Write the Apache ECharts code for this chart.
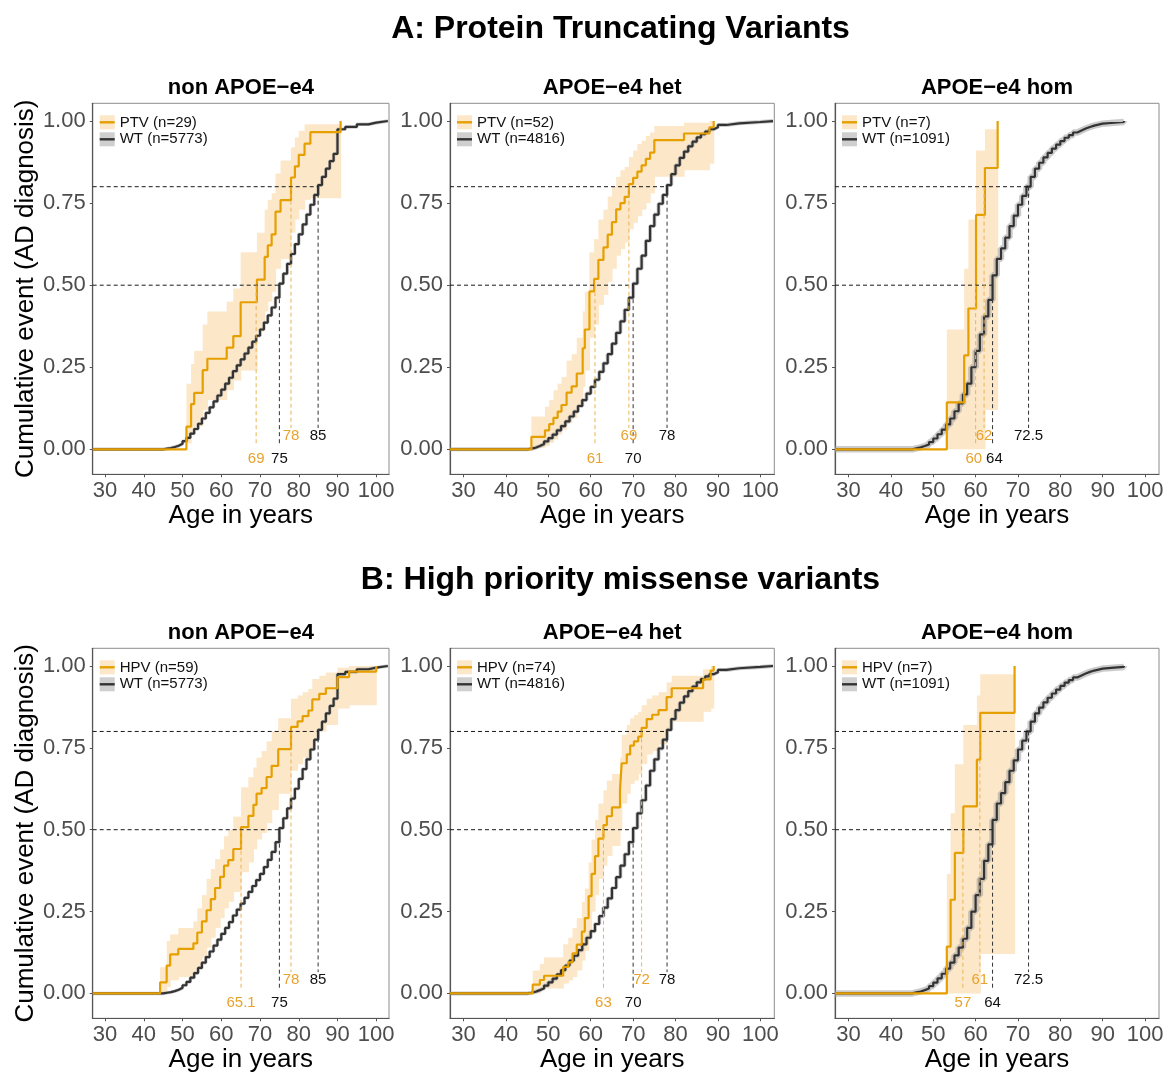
<!DOCTYPE html>
<html><head><meta charset="utf-8">
<script src="https://cdn.jsdelivr.net/npm/echarts@6/dist/echarts.min.js"></script>
<style>html,body{margin:0;padding:0;background:#fff}#c{width:1166px;height:1073px}</style>
</head><body><div id="c"></div>
<script>
// ---------------- data ----------------
const row_titles = ['A: Protein Truncating Variants', 'B: High priority missense variants'];
const panel_titles = ['non APOE\u2212e4', 'APOE\u2212e4 het', 'APOE\u2212e4 hom', 'non APOE\u2212e4', 'APOE\u2212e4 het', 'APOE\u2212e4 hom'];
const var_names = ['PTV', 'PTV', 'PTV', 'HPV', 'HPV', 'HPV'];
const var_n = [29, 52, 7, 59, 74, 7];
const wt_n = [5773, 4816, 1091, 5773, 4816, 1091];
const x_ticks = [30, 40, 50, 60, 70, 80, 90, 100];
const y_ticks = [0, 0.25, 0.5, 0.75, 1];

// WT cumulative event curves (same WT groups in rows A and B)
const wt_non_age = [44,45,46,47,48,49,50,51,52,53,54,55,56,57,58,59,60,61,62,63,64,65,66,67,68,69,70,71,72,73,74,75,76,77,78,79,80,81,82,83,84,85,86,87,88,89,90,92,95,98,100,103];
const wt_non_cum = [0.000,0.002,0.004,0.007,0.011,0.017,0.025,0.035,0.048,0.062,0.078,0.094,0.111,0.128,0.146,0.164,0.182,0.200,0.218,0.238,0.256,0.274,0.292,0.310,0.328,0.346,0.365,0.386,0.408,0.432,0.462,0.505,0.535,0.565,0.595,0.625,0.655,0.685,0.715,0.745,0.775,0.805,0.830,0.855,0.878,0.900,0.975,0.982,0.990,0.995,1.0,1.0];

const wt_het_age = [44,45,46,47,48,49,50,51,52,53,54,55,56,57,58,59,60,61,62,63,64,65,66,67,68,69,70,71,72,73,74,75,76,77,78,79,80,81,82,83,84,85,86,87,88,89,90,92,95,100,103];
const wt_het_cum = [0.000,0.002,0.005,0.010,0.016,0.024,0.034,0.045,0.058,0.071,0.085,0.100,0.115,0.132,0.150,0.170,0.190,0.212,0.236,0.262,0.290,0.322,0.355,0.390,0.425,0.462,0.505,0.550,0.590,0.635,0.680,0.715,0.748,0.775,0.805,0.838,0.865,0.888,0.907,0.923,0.937,0.950,0.960,0.968,0.975,0.981,0.988,0.993,0.997,1.0,1.0];

const wt_hom_age = [44,45,46,47,48,49,50,51,52,53,54,55,56,57,58,59,60,61,62,63,64,65,66,67,68,69,70,71,72,73,74,75,76,77,78,79,80,81,82,83,84,85,86,87,88,89,90,92,95];
const wt_hom_cum = [0.000,0.003,0.006,0.010,0.015,0.022,0.033,0.046,0.060,0.076,0.094,0.116,0.140,0.167,0.200,0.250,0.300,0.350,0.405,0.455,0.530,0.580,0.612,0.645,0.680,0.712,0.745,0.772,0.800,0.830,0.855,0.873,0.889,0.903,0.916,0.928,0.939,0.949,0.957,0.965,0.971,0.977,0.982,0.986,0.989,0.992,0.994,0.997,1.0];

// A: PTV carriers (event ages, cumulative estimate, CI lower, CI upper)
const ptv_non_age = [51,52.2,53,55.2,56.4,61.4,63.1,65,69.2,71.2,72,73,74,75.3,78,79,80,81.5,83,90.8];
const ptv_non_cum = [0.069,0.138,0.172,0.241,0.276,0.310,0.345,0.448,0.517,0.586,0.621,0.655,0.724,0.759,0.828,0.862,0.897,0.931,0.966,1.0];
const ptv_non_lo  = [0.018,0.05,0.07,0.12,0.15,0.18,0.21,0.24,0.36,0.42,0.45,0.48,0.55,0.58,0.66,0.70,0.73,0.76,0.765,null];
const ptv_non_hi  = [0.20,0.26,0.30,0.38,0.42,0.45,0.49,0.60,0.66,0.73,0.76,0.78,0.84,0.88,0.92,0.95,0.97,0.99,0.99,null];

const ptv_het_age = [46,49.2,50.2,51.2,52.2,53.1,54.3,55.5,56.7,58.1,58.6,59.7,60.8,61.8,63,64,65,66,67,68,69,70,71,72,73,74,75,82,88,89];
const ptv_het_cum = [0.038,0.058,0.077,0.096,0.115,0.135,0.173,0.192,0.231,0.308,0.365,0.481,0.519,0.577,0.615,0.654,0.692,0.731,0.750,0.769,0.808,0.827,0.846,0.865,0.885,0.904,0.942,0.962,0.981,1.0];
const ptv_het_lo  = [0.005,0.01,0.02,0.03,0.045,0.06,0.08,0.095,0.13,0.19,0.24,0.34,0.38,0.44,0.47,0.51,0.55,0.59,0.61,0.63,0.67,0.69,0.71,0.73,0.75,0.78,0.83,0.85,0.87,null];
const ptv_het_hi  = [0.10,0.13,0.15,0.18,0.20,0.22,0.27,0.29,0.34,0.42,0.48,0.60,0.64,0.70,0.73,0.77,0.80,0.83,0.85,0.86,0.89,0.91,0.93,0.94,0.955,0.965,0.985,0.995,1.0,null];

const ptv_hom_age = [53.2,57.3,58.3,60.1,62.2,65.2];
const ptv_hom_cum = [0.143,0.286,0.429,0.714,0.857,1.0];
const ptv_hom_lo  = [0,0,0,0,0.12,null];
const ptv_hom_hi  = [0.365,0.55,0.70,0.91,0.975,null];

// B: HPV carriers
const hpv_non_age = [44.2,45.9,46.8,48.9,52.8,53.8,55,56.2,57.3,58.4,59.7,60.7,61.8,63.1,65.1,67,68.3,69.1,70.4,71.7,73,74.7,78,79.7,81,82.5,83.5,85.3,87,90,93,100];
const hpv_non_cum = [0.034,0.085,0.119,0.136,0.153,0.186,0.220,0.254,0.288,0.322,0.356,0.390,0.407,0.441,0.508,0.542,0.576,0.610,0.627,0.661,0.695,0.746,0.814,0.831,0.847,0.864,0.898,0.915,0.932,0.966,0.983,1.0];
const hpv_non_lo  = [0.0,0.02,0.04,0.05,0.06,0.08,0.11,0.14,0.17,0.20,0.23,0.26,0.28,0.31,0.37,0.40,0.44,0.47,0.49,0.52,0.56,0.61,0.68,0.70,0.72,0.74,0.78,0.80,0.82,0.87,0.88,null];
const hpv_non_hi  = [0.08,0.16,0.18,0.20,0.22,0.26,0.30,0.35,0.38,0.41,0.44,0.48,0.50,0.54,0.63,0.66,0.69,0.72,0.74,0.77,0.80,0.84,0.90,0.91,0.92,0.93,0.96,0.97,0.98,0.995,1.0,null];

const hpv_het_age = [46.3,48,49,53.5,54.7,55.7,56.7,57.9,58.6,59.5,60.2,61,61.8,63,63.8,65,66.9,67.3,68.5,69.3,70.2,71.2,72,73.2,74.5,76,77.9,79.1,86.5,88.3,89];
const hpv_het_cum = [0.027,0.041,0.054,0.081,0.095,0.122,0.149,0.189,0.230,0.297,0.365,0.419,0.473,0.514,0.541,0.568,0.622,0.703,0.730,0.757,0.770,0.784,0.811,0.838,0.851,0.865,0.905,0.932,0.959,0.986,1.0];
const hpv_het_lo  = [0.0,0.01,0.015,0.03,0.04,0.05,0.07,0.10,0.13,0.19,0.25,0.30,0.35,0.39,0.42,0.45,0.50,0.58,0.61,0.64,0.65,0.67,0.70,0.73,0.74,0.76,0.80,0.83,0.86,0.87,null];
const hpv_het_hi  = [0.07,0.09,0.11,0.15,0.17,0.20,0.23,0.28,0.32,0.40,0.47,0.53,0.58,0.62,0.65,0.67,0.72,0.79,0.82,0.84,0.85,0.86,0.88,0.90,0.91,0.92,0.95,0.97,0.99,1.0,null];

const hpv_hom_age = [53.2,54.1,55.1,57.1,60.3,61.1,69.2];
const hpv_hom_cum = [0.143,0.286,0.429,0.571,0.714,0.857,1.0];
const hpv_hom_lo  = [0,0,0,0,0,0.12,null];
const hpv_hom_hi  = [0.365,0.55,0.70,0.82,0.91,0.975,null];

// median and 80% ages (variant, WT) per panel
const var_median = [69, 61, 60, 65.1, 63, 57];
const var_p80    = [78, 69, 62, 78, 72, 61];
const wt_median  = [75, 70, 64, 75, 70, 64];
const wt_p80     = [85, 78, 72.5, 85, 78, 72.5];

// ---------------- layout / style ----------------
const FONT = "'Liberation Sans', Arial, Helvetica, sans-serif";
const X_MIN = 26.8, X_MAX = 103.3, Y_MIN = -0.076, Y_MAX = 1.054;
const GL = [92.7, 450, 835], GW = [296.3, 324.3, 324], GT = [103.3, 648.3], GH = [371, 370];
const ORANGE = '#E69F00', ORANGE_TXT = '#E9A22C', ORANGE_DASH = '#EDB354', BAND = '#FCE7C8', DARK = '#333333';
const HALO = [3.5, 4, 6.5, 3.5, 4, 6.5];

const wtSets = [[wt_non_age, wt_non_cum], [wt_het_age, wt_het_cum], [wt_hom_age, wt_hom_cum]];
const varSets = [
  [ptv_non_age, ptv_non_cum, ptv_non_lo, ptv_non_hi],
  [ptv_het_age, ptv_het_cum, ptv_het_lo, ptv_het_hi],
  [ptv_hom_age, ptv_hom_cum, ptv_hom_lo, ptv_hom_hi],
  [hpv_non_age, hpv_non_cum, hpv_non_lo, hpv_non_hi],
  [hpv_het_age, hpv_het_cum, hpv_het_lo, hpv_het_hi],
  [hpv_hom_age, hpv_hom_cum, hpv_hom_lo, hpv_hom_hi]
];

function stepData(ages, cum) {
  const d = [[X_MIN, 0]];
  ages.forEach((a, i) => d.push([a, cum[i]]));
  return d;
}
function bandData(ages, lo, hi) {
  const d = [];
  for (let i = 0; i < ages.length - 1; i++) d.push([ages[i], ages[i + 1], lo[i], hi[i]]);
  return d;
}
function textW(s) { let w = 0; for (const ch of s) w += (ch === '.' ? 0.278 : 0.556); return w * 15; }

const grids = [], xAxes = [], yAxes = [], series = [], graphics = [];

row_titles.forEach((t, r) => {
  graphics.push({ type: 'text', x: 620.5, y: r === 0 ? 29 : 580,
    style: { text: t, font: `bold 32px ${FONT}`, fill: '#000', align: 'center', verticalAlign: 'middle', textAlign: 'center', textVerticalAlign: 'middle' } });
});

for (let p = 0; p < 6; p++) {
  const r = Math.floor(p / 3), c = p % 3;
  const L = GL[c], T = GT[r], W = GW[c], H = GH[r];
  grids.push({ left: L, top: T, width: W, height: H, show: true, borderColor: '#8c8c8c', borderWidth: 1,
    backgroundColor: 'transparent', outerBoundsMode: 'none', containLabel: false });
  xAxes.push({ gridIndex: p, type: 'value', min: X_MIN, max: X_MAX,
    axisLine: { show: true, onZero: false, lineStyle: { color: '#555', width: 1.2 } }, splitLine: { show: false },
    axisTick: { show: true, customValues: x_ticks, length: 3, lineStyle: { color: '#555', width: 1 } },
    axisLabel: { customValues: x_ticks, fontSize: 22, color: '#4d4d4d', fontFamily: FONT, margin: 6 },
    name: 'Age in years', nameLocation: 'middle', nameGap: 21,
    nameTextStyle: { fontSize: 26, color: '#000', fontFamily: FONT } });
  const ya = { gridIndex: p, type: 'value', min: Y_MIN, max: Y_MAX,
    axisLine: { show: true, onZero: false, lineStyle: { color: '#555', width: 1.2 } }, splitLine: { show: false },
    axisTick: { show: true, customValues: y_ticks, length: 3, lineStyle: { color: '#555', width: 1 } },
    axisLabel: { customValues: y_ticks, fontSize: 22, color: '#4d4d4d', fontFamily: FONT, margin: 7,
      formatter: v => Number(v).toFixed(2) } };
  if (c === 0) {
    ya.name = 'Cumulative event (AD diagnosis)';
    ya.nameLocation = 'middle'; ya.nameGap = 54;
    ya.nameTextStyle = { fontSize: 26, color: '#000', fontFamily: FONT };
  }
  yAxes.push(ya);

  const [wa, wc] = wtSets[c];
  const [va, vc, vl, vh] = varSets[p];

  // CI band for variant carriers
  series.push({ type: 'custom', xAxisIndex: p, yAxisIndex: p, silent: true, z: 1,
    data: bandData(va, vl, vh), encode: { x: [0, 1], y: [2, 3] },
    renderItem: (params, api) => {
      const a = api.coord([api.value(0), api.value(3)]);
      const b = api.coord([api.value(1), api.value(2)]);
      return { type: 'rect', shape: { x: a[0], y: a[1], width: b[0] - a[0] + 0.6, height: b[1] - a[1] },
        style: { fill: BAND } };
    } });
  // WT halo (CI) and line
  series.push({ type: 'line', xAxisIndex: p, yAxisIndex: p, step: 'end', showSymbol: false, symbol: 'none', silent: true, z: 2,
    data: stepData(wa, wc), lineStyle: { color: 'rgba(160,160,160,0.55)', width: HALO[p] } });
  series.push({ type: 'line', xAxisIndex: p, yAxisIndex: p, step: 'end', showSymbol: false, symbol: 'none', silent: true, z: 3,
    data: stepData(wa, wc), lineStyle: { color: DARK, width: 2.2 } });
  // variant line
  series.push({ type: 'line', xAxisIndex: p, yAxisIndex: p, step: 'end', showSymbol: false, symbol: 'none', silent: true, z: 4,
    data: stepData(va, vc), lineStyle: { color: ORANGE, width: 2.2 } });

  // dashed guides
  const dash = (data, color) => series.push({ type: 'line', xAxisIndex: p, yAxisIndex: p, showSymbol: false, symbol: 'none',
    silent: true, z: 5, data, lineStyle: { color, width: 1, type: [4, 3] } });
  dash([[X_MIN, 0.5], [Math.max(var_median[p], wt_median[p]), 0.5]], '#1a1a1a');
  dash([[X_MIN, 0.8], [Math.max(var_p80[p], wt_p80[p]), 0.8]], '#1a1a1a');
  dash([[wt_median[p], 0.5], [wt_median[p], 0.015]], '#333');
  dash([[wt_p80[p], 0.8], [wt_p80[p], 0.065]], '#333');
  dash([[var_median[p], 0.5], [var_median[p], 0.015]], ORANGE_DASH);
  dash([[var_p80[p], 0.8], [var_p80[p], 0.065]], ORANGE_DASH);

  // age labels
  series.push({ type: 'custom', xAxisIndex: p, yAxisIndex: p, silent: true, z: 6,
    data: [[var_median[p], wt_median[p], var_p80[p], wt_p80[p]]], encode: { x: [0, 1, 2, 3] },
    renderItem: (params, api) => {
      const rows = [[api.value(0), api.value(1), -0.028], [api.value(2), api.value(3), 0.04]];
      const children = [];
      rows.forEach(([xv, xw, y]) => {
        const pv = api.coord([xv, y]), pw = api.coord([xw, y]);
        const tv = String(xv), tw = String(xw);
        let cv = pv[0], cw = pw[0];
        const need = (textW(tv) + textW(tw)) / 2 + 4, gap = cw - cv;
        if (gap < need) { const d = (need - gap) / 2; cv -= d; cw += d; }
        const st = (text, fill) => ({ text, fill, font: `15px ${FONT}`, align: 'center', verticalAlign: 'middle', textAlign: 'center', textVerticalAlign: 'middle' });
        children.push({ type: 'text', x: cv, y: pv[1], style: st(tv, ORANGE_TXT) });
        children.push({ type: 'text', x: cw, y: pw[1], style: st(tw, '#111') });
      });
      return { type: 'group', children };
    } });

  // panel title
  graphics.push({ type: 'text', x: L + W / 2, y: T - 15.5,
    style: { text: panel_titles[p], font: `bold 22px ${FONT}`, fill: '#000', align: 'center', verticalAlign: 'middle', textAlign: 'center', textVerticalAlign: 'middle' } });
  // legend
  graphics.push({ type: 'rect', shape: { x: L + 7, y: T + 12, width: 15, height: 14 }, style: { fill: BAND } });
  graphics.push({ type: 'line', shape: { x1: L + 7, y1: T + 19, x2: L + 22, y2: T + 19 }, style: { stroke: ORANGE, lineWidth: 2.4 } });
  graphics.push({ type: 'rect', shape: { x: L + 7, y: T + 29, width: 15, height: 14 }, style: { fill: '#cfcfcf' } });
  graphics.push({ type: 'line', shape: { x1: L + 7, y1: T + 36, x2: L + 22, y2: T + 36 }, style: { stroke: DARK, lineWidth: 2.4 } });
  const lt = (text, y) => ({ type: 'text', x: L + 27, y,
    style: { text, font: `15px ${FONT}`, fill: '#111', align: 'left', verticalAlign: 'middle', textAlign: 'left', textVerticalAlign: 'middle' } });
  graphics.push(lt(`${var_names[p]} (n=${var_n[p]})`, T + 20));
  graphics.push(lt(`WT (n=${wt_n[p]})`, T + 36));
}

const chart = echarts.init(document.getElementById('c'), null, { renderer: 'canvas' });
chart.setOption({
  animation: false,
  backgroundColor: '#fff',
  textStyle: { fontFamily: FONT },
  grid: grids, xAxis: xAxes, yAxis: yAxes, series,
  graphic: { elements: graphics }
});
</script>
</body></html>
